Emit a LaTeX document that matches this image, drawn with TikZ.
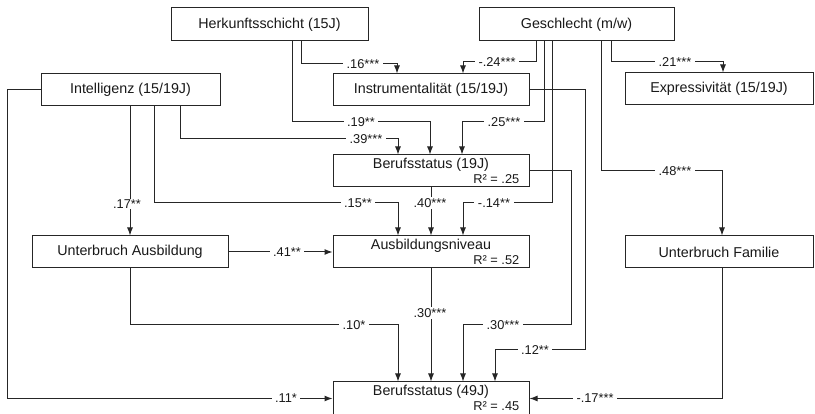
\documentclass[tikz,border=0pt]{standalone}
\usepackage{fontspec}
\setmainfont{Liberation Sans}
\usetikzlibrary{arrows.meta}
\begin{document}
\begin{tikzpicture}[x=1pt,y=-1pt,
  box/.style={draw=black!85, line width=1pt, fill=white, inner sep=0pt, minimum width=196pt, minimum height=32pt, font=\fontsize{14.3}{17}\selectfont, text=black!90},
  txt/.style={inner sep=0pt, font=\fontsize{14.3}{17}\selectfont, text=black!90},
  rtxt/.style={inner sep=0pt, font=\fontsize{12.8}{15}\selectfont, text=black!90},
  lbl/.style={fill=white, inner xsep=3.5pt, inner ysep=1pt, font=\fontsize{12.8}{15}\selectfont, text=black!90},
  con/.style={draw=black!85, line width=1pt},
  arr/.style={con, -{Latex[length=8pt,width=6pt]}}
]
\useasboundingbox (0,0) rectangle (815,414);

% boxes
\node[box, minimum width=197pt, minimum height=33pt] (hk) at (269.5,24.5) {Herkunftsschicht (15J)};
\node[box, minimum width=195pt, minimum height=33pt] (gs) at (576.5,24.5) {Geschlecht (m/w)};
\node[box, minimum width=179pt] (il) at (130.5,90) {Intelligenz (15/19J)};
\node[box] (ins) at (431,90) {Instrumentalität (15/19J)};
\node[box, minimum width=188pt] (ex) at (719,89) {Expressivität (15/19J)};
\node[box] (b19) at (431,171) {};
\node[box] (ua) at (130,252) {Unterbruch Ausbildung};
\node[box] (an) at (431,252) {};
\node[box, minimum width=188pt] (uf) at (719,252) {Unterbruch Familie};
\node[box, minimum height=33pt] (b49) at (431,398.5) {};

\node[txt] (b19t) at ([yshift=6pt]b19.center) {Berufsstatus (19J)};
\node[rtxt, anchor=east] (b19r) at ([xshift=-10pt,yshift=-8pt]b19.east) {R² = .25};
\node[txt] (ant) at ([yshift=6pt]an.center) {Ausbildungsniveau};
\node[rtxt, anchor=east] (anr) at ([xshift=-10pt,yshift=-8pt]an.east) {R² = .52};
\node[txt] (b49t) at ([yshift=6.5pt]b49.center) {Berufsstatus (49J)};
\node[rtxt, anchor=east] (b49r) at ([xshift=-10pt,yshift=-7.5pt]b49.east) {R² = .45};

% start / target coordinates
\coordinate (s1) at ([xshift=31.5pt]hk.south);
\coordinate (t1) at ([xshift=-34pt]ins.north);
\coordinate (s2) at ([xshift=22.5pt]hk.south);
\coordinate (t2) at ([xshift=-1pt]b19.north);
\coordinate (s3) at ([xshift=49.5pt]il.south);
\coordinate (t3) at ([xshift=-33pt]b19.north);
\coordinate (s4) at ([xshift=-40.5pt]gs.south);
\coordinate (t4) at ([xshift=32pt]ins.north);
\coordinate (s5) at ([xshift=-32.5pt]gs.south);
\coordinate (t5) at ([xshift=31pt]b19.north);
\coordinate (s6) at ([xshift=-24.5pt]gs.south);
\coordinate (t6) at ([xshift=32pt]an.north);
\coordinate (s7) at ([xshift=34.5pt]gs.south);
\coordinate (t7) at ([xshift=4pt]ex.north);
\coordinate (s8) at ([xshift=24.5pt]gs.south);
\coordinate (t8) at ([xshift=3pt]uf.north);
\coordinate (s10) at ([xshift=23.5pt]il.south);
\coordinate (t10) at ([xshift=-33pt]an.north);
\coordinate (t13) at ([xshift=-33pt]b49.north);
\coordinate (t15) at ([xshift=32pt]b49.north);
\coordinate (t16) at ([xshift=64pt]b49.north);
\coordinate (s18) at ([xshift=3pt]uf.south);

% connectors
\draw[arr] (s1) |- ([yshift=10pt]t1) -- (t1);
\draw[arr] (s2) |- ([yshift=33pt]t2) -- (t2);
\draw[arr] (s3) |- ([yshift=16pt]t3) -- (t3);
\draw[arr] (s4) |- ([yshift=12pt]t4) -- (t4);
\draw[arr] (s5) |- ([yshift=33pt]t5) -- (t5);
\draw[arr] (s6) |- ([yshift=33pt]t6) -- (t6);
\draw[arr] (s7) |- ([yshift=11pt]t7) -- (t7);
\draw[arr] (s8) |- ([yshift=65pt]t8) -- (t8);
\draw[arr] ([xshift=-0.5pt]il.south) -- (ua.north);
\draw[arr] (s10) |- ([yshift=33pt]t10) -- (t10);
\draw[arr] (b19.south) -- (an.north);
\draw[arr] (ua.east) -- (an.west);
\draw[arr] (ua.south) |- ([yshift=57pt]t13) -- (t13);
\draw[arr] (an.south) -- (b49.north);
\draw[arr] (b19.east) -- ++(42,0) |- ([yshift=57pt]t15) -- (t15);
\draw[arr] (ins.east) -- ++(56,0) |- ([yshift=32pt]t16) -- (t16);
\draw[arr] (il.west) -- ++(-33,0) |- (b49.west);
\draw[arr] (s18) |- (b49.east);

% labels
\node[lbl] (l1) at (363,64) {.16***};
\node[lbl] (l2) at (361,122) {.19**};
\node[lbl] (l3) at (366,139) {.39***};
\node[lbl] (l4) at (497,62) {-.24***};
\node[lbl] (l5) at (504,122) {.25***};
\node[lbl] (l6) at (494,203) {-.14**};
\node[lbl] (l7) at (675,62) {.21***};
\node[lbl] (l8) at (675,171) {.48***};
\node[lbl] (l9) at (127,204) {.17**};
\node[lbl] (l10) at (358,203) {.15**};
\node[lbl] (l11) at (430,203) {.40***};
\node[lbl] (l12) at (287,252) {.41**};
\node[lbl] (l13) at (354,325) {.10*};
\node[lbl] (l14) at (430,313) {.30***};
\node[lbl] (l15) at (503,325) {.30***};
\node[lbl] (l16) at (535,350) {.12**};
\node[lbl] (l17) at (286,398) {.11*};
\node[lbl] (l18) at (595,398) {-.17***};
\end{tikzpicture}
\end{document}
